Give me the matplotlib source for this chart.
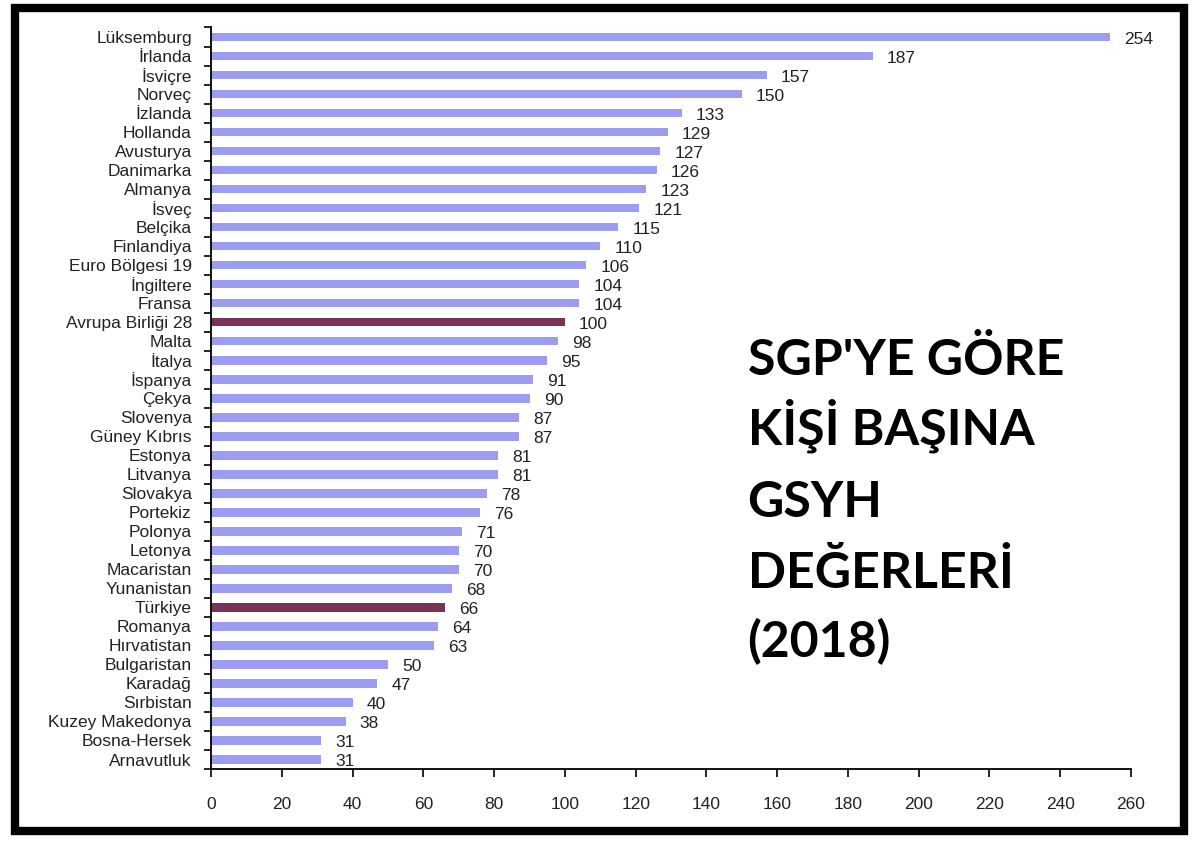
import matplotlib
matplotlib.use('Agg')
import matplotlib.pyplot as plt
from matplotlib.patches import Rectangle

countries = ['Lüksemburg', 'İrlanda', 'İsviçre', 'Norveç', 'İzlanda', 'Hollanda',
             'Avusturya', 'Danimarka', 'Almanya', 'İsveç', 'Belçika', 'Finlandiya',
             'Euro Bölgesi 19', 'İngiltere', 'Fransa', 'Avrupa Birliği 28', 'Malta',
             'İtalya', 'İspanya', 'Çekya', 'Slovenya', 'Güney Kıbrıs', 'Estonya',
             'Litvanya', 'Slovakya', 'Portekiz', 'Polonya', 'Letonya', 'Macaristan',
             'Yunanistan', 'Türkiye', 'Romanya', 'Hırvatistan', 'Bulgaristan',
             'Karadağ', 'Sırbistan', 'Kuzey Makedonya', 'Bosna-Hersek', 'Arnavutluk']
values = [254, 187, 157, 150, 133, 129, 127, 126, 123, 121, 115, 110, 106, 104, 104,
          100, 98, 95, 91, 90, 87, 87, 81, 81, 78, 76, 71, 70, 70, 68, 66, 64, 63,
          50, 47, 40, 38, 31, 31]
highlight = ['Avrupa Birliği 28', 'Türkiye']
x_ticks = list(range(0, 261, 20))
title_lines = ["SGP'YE GÖRE", "KİŞİ BAŞINA", "GSYH", "DEĞERLERİ", "(2018)"]

fig = plt.figure(figsize=(12, 8.46), dpi=100)
ax = fig.add_axes([0.176, 0.091, 0.7665, 0.8765])

ypos = list(range(len(countries)))
colors = ['#7a3356' if c in highlight else '#9c9cf0' for c in countries]
ax.barh(ypos, values, height=0.45, color=colors)
for y, v in zip(ypos, values):
    ax.text(v + 4, y + 0.12, str(v), va='center', ha='left', fontsize=12.5,
            family='Liberation Sans', color='#222222')

ax.set_ylim(len(countries) - 0.5, -0.5)
ax.set_xlim(0, 260)
ax.set_yticks(ypos)
ax.set_yticklabels(countries, fontsize=12.5, family='Liberation Sans', color='#222222')
ax.set_yticks([i - 0.5 for i in range(len(countries) + 1)], minor=True)
ax.tick_params(axis='y', which='major', length=0, pad=14)
ax.tick_params(axis='y', which='minor', length=5, width=1.2, direction='out')
ax.set_xticks(x_ticks)
ax.set_xticklabels([str(t) for t in x_ticks], fontsize=12.5, family='Liberation Sans',
                   color='#222222')
ax.tick_params(axis='x', length=6, width=1.2, pad=14)
ax.spines['top'].set_visible(False)
ax.spines['right'].set_visible(False)
ax.spines['left'].set_linewidth(1.3)
ax.spines['bottom'].set_linewidth(1.3)

# title block, one line at a time so the spacing stays even
baselines = [0.5567, 0.474, 0.389, 0.305, 0.2234]
for line, yb in zip(title_lines, baselines):
    fig.text(0.623, yb, line, fontsize=36, fontweight='bold', family='Lato',
             ha='left', va='baseline', color='black')

fig.patches.append(Rectangle((0.0125, 0.018), 0.974, 0.972, transform=fig.transFigure,
                             fill=False, edgecolor='black', linewidth=6))

fig.savefig('out.png', dpi=100)
